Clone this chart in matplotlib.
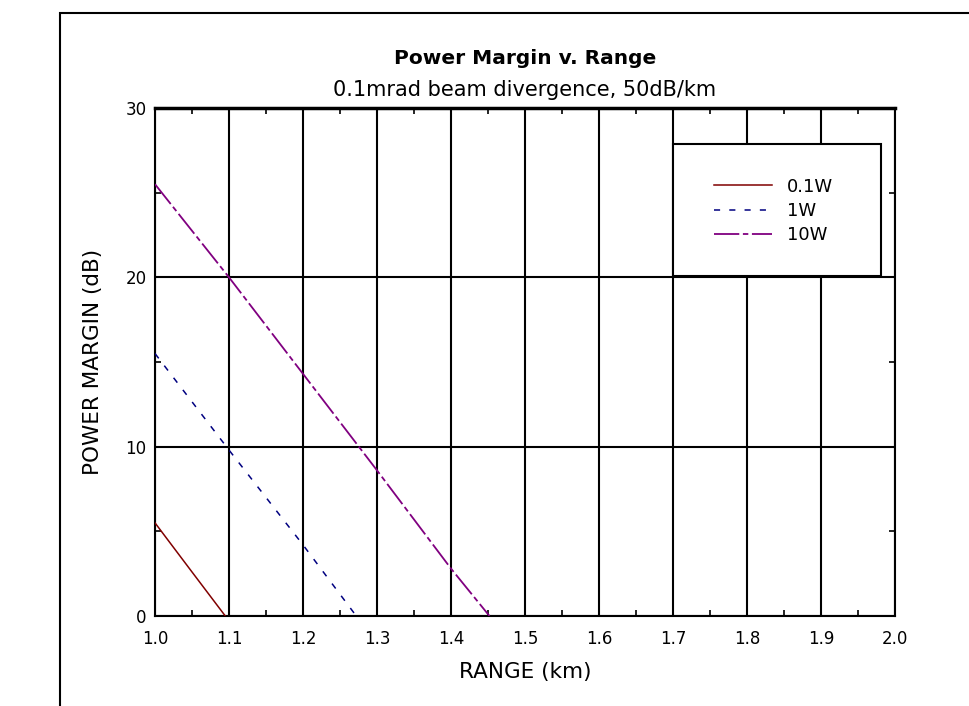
import matplotlib
matplotlib.use("Agg")
import matplotlib.pyplot as plt
from matplotlib.patches import Rectangle
from matplotlib.ticker import MultipleLocator

# values
range_01w = [1.0, 1.05, 1.095]
margin_01w = [5.5, 2.6, 0.0]
range_1w = [1.0, 1.1, 1.2, 1.272]
margin_1w = [15.5, 9.8, 4.2, 0.0]
range_10w = [1.0, 1.1, 1.2, 1.3, 1.4, 1.452]
margin_10w = [25.5, 20.0, 14.3, 8.6, 2.8, 0.0]
labels = ["0.1W", "1W", "10W"]
colors = ["#800000", "#000080", "#800080"]

plt.rcParams['font.family'] = ['DejaVu Sans']

fig = plt.figure(figsize=(9.7, 7.06), dpi=100)
fig.patches.append(Rectangle((60 / 970, -0.1), 1.0, 1 - 13 / 706 + 0.1,
                             transform=fig.transFigure, fill=False,
                             edgecolor='black', linewidth=1.5))
ax = fig.add_axes([155 / 970, 1 - 616 / 706, 740 / 970, 508 / 706])

ax.plot(range_01w, margin_01w, color=colors[0], lw=1.1, ls='-', label=labels[0], zorder=3)
ax.plot(range_1w, margin_1w, color=colors[1], lw=1.1, ls=(0, (4, 6)), label=labels[1], zorder=3)
ax.plot(range_10w, margin_10w, color=colors[2], lw=1.3, ls=(0, (14, 2, 3, 2)), label=labels[2], zorder=3)

ax.set_xlim(1.0, 2.0)
ax.set_ylim(0, 30)
ax.xaxis.set_major_locator(MultipleLocator(0.1))
ax.xaxis.set_minor_locator(MultipleLocator(0.05))
ax.yaxis.set_major_locator(MultipleLocator(10))
ax.yaxis.set_minor_locator(MultipleLocator(5))
ax.xaxis.set_major_formatter(plt.FuncFormatter(lambda v, p: f"{v:.1f}"))
ax.grid(True, which='major', color='black', lw=1.5)
ax.tick_params(which='both', direction='in', top=True, right=True, labelsize=12)
ax.tick_params(axis='x', which='major', length=0, pad=10)
ax.tick_params(axis='y', which='major', length=0, pad=6)
ax.tick_params(which='minor', length=4, width=1.2)
for s in ax.spines.values():
    s.set_linewidth(1.5)
ax.spines['top'].set_linewidth(2.5)

ax.set_xlabel("RANGE (km)", fontsize=15.5, labelpad=10)
ax.set_ylabel("POWER MARGIN (dB)", fontsize=15.5, labelpad=16)
fig.text(0.541, 1 - 58 / 706, "Power Margin v. Range", ha='center', va='center',
         fontsize=14.5, fontweight='bold')
fig.text(0.541, 1 - 90 / 706, "0.1mrad beam divergence, 50dB/km", ha='center',
         va='center', fontsize=15)

# legend box
ax.add_patch(Rectangle((0.700, 0.669), 0.281, 0.260, transform=ax.transAxes,
                       facecolor='white', edgecolor='black', lw=1.5, zorder=4))
leg = ax.legend(loc='center', bbox_to_anchor=(0.836, 0.797), frameon=False,
                fontsize=13, handlelength=3.2, handletextpad=0.8, labelspacing=0.35)
leg.set_zorder(5)

fig.savefig("out.png", dpi=100)
